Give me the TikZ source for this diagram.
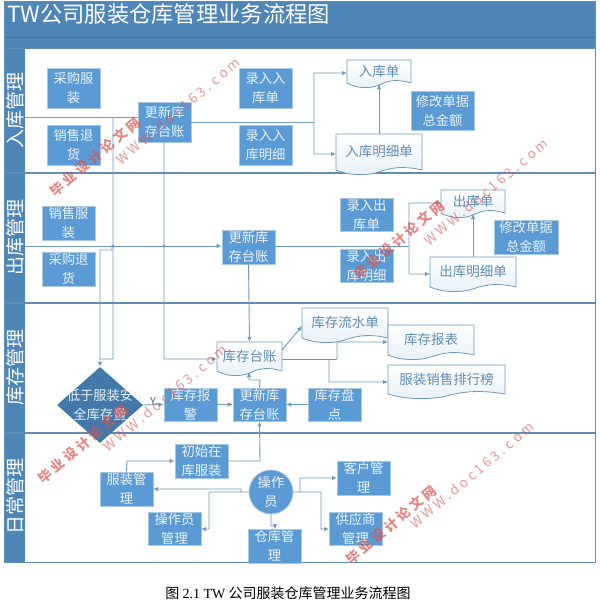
\documentclass[tikz,border=0pt]{standalone}
\usepackage{fontspec}
\setmainfont{Noto Sans CJK SC}
\newfontfamily\capfont{Liberation Serif}
\newfontfamily\capcjk{Noto Sans CJK SC}
\usetikzlibrary{shapes.geometric,arrows.meta}
\definecolor{band}{HTML}{4F86B8}
\definecolor{bandd}{HTML}{3F74A5}
\definecolor{lanel}{HTML}{5F8DB5}
\definecolor{boxb}{HTML}{5B9BD5}
\definecolor{boxe}{HTML}{A9C8E0}
\definecolor{conn}{HTML}{6C9BBE}
\definecolor{txt}{HTML}{EAF2F8}
\definecolor{doctxt}{HTML}{5F8DB5}
\definecolor{wm}{HTML}{D9534F}
\tikzset{
  pbox/.style={draw=boxe,line width=0.8pt,fill=boxb,text=txt,font=\fontsize{13.3}{19}\selectfont,align=center,inner sep=0pt},
  conline/.style={draw=conn,line width=0.9pt,rounded corners=0.5pt},
  arr/.style={conline,-{Latex[length=5pt,width=4.5pt,fill=conn]}},
  lanetext/.style={rotate=90,text=white,font=\fontsize{19}{21}\selectfont,inner sep=0pt},
  doclabel/.style={text=doctxt,font=\fontsize{13.5}{15}\selectfont,inner sep=0pt},
  wma/.style={rotate=40,text=wm,opacity=0.7,font=\bfseries\fontsize{13.5}{15}\selectfont,inner sep=0pt},
  wmb/.style={rotate=40,text=wm,opacity=0.6,font=\fontsize{13.5}{15}\selectfont,inner sep=0pt},
}
% x1 y1 x2 y2 (y2 = lowest point of wave), name, label
\newcommand{\docshape}[6]{%
  \path[top color=white,bottom color=white!85!boxb]
    (#1,#2) -- (#3,#2) -- (#3,#4-5)
    .. controls ({#3-0.2*(#3-#1)},#4-9) and ({#1+0.65*(#3-#1)},#4-8) .. ({(#1+#3)/2},#4-3)
    .. controls ({#1+0.35*(#3-#1)},#4+1) and ({#1+0.15*(#3-#1)},#4+0.5) .. (#1,#4-5) -- cycle;
  \draw[draw=conn,line width=0.8pt] (#1,#2) -- (#3,#2) -- (#3,#4-5)
    .. controls ({#3-0.2*(#3-#1)},#4-9) and ({#1+0.65*(#3-#1)},#4-8) .. ({(#1+#3)/2},#4-3)
    .. controls ({#1+0.35*(#3-#1)},#4+1) and ({#1+0.15*(#3-#1)},#4+0.5) .. (#1,#4-5) -- cycle;
  \coordinate (#5 top) at ({(#1+#3)/2},#2);
  \coordinate (#5 bot) at ({(#1+#3)/2},#4-3);
  \node[doclabel] (#5 t) at ({(#1+#3)/2},{(#2+#4-6)/2}) {#6};
}
\newcommand{\pb}[6]{\node[pbox,minimum width={(#3-#1)*1pt},minimum height={(#4-#2)*1pt}] (#5) at ({(#1+#3)/2},{(#2+#4)/2}) {#6};}
\begin{document}
\begin{tikzpicture}[x=1pt,y=-1pt]
\useasboundingbox (0,0) rectangle (600,600);
\fill[white] (0,0) rectangle (600,600);
% frame
\fill[band] (4,1) rectangle (595,48);
\draw[bandd,line width=0.8pt] (4,37.5) -- (595,37.5);
\fill[band] (4,48) rectangle (25,562);
\draw[lanel,line width=1pt] (4,1) rectangle (595,562);
\draw[lanel,line width=1.2pt] (4,48.5) -- (595,48.5);
\draw[lanel,line width=1.4pt] (4,173) -- (595,173);
\draw[lanel,line width=1.4pt] (4,303) -- (595,303);
\draw[lanel,line width=1.4pt] (4,433) -- (595,433);
\node[anchor=west,text=white,font=\fontsize{22.3}{24}\selectfont,inner sep=0pt] (title) at (7,14) {TW公司服装仓库管理业务流程图};
\node[lanetext] (l1) at (15,110) {入库管理};
\node[lanetext] (l2) at (15,237) {出库管理};
\node[lanetext] (l3) at (15,367) {库存管理};
\node[lanetext] (l4) at (15,496) {日常管理};
% documents
\docshape{347}{60}{411}{88}{d1}{入库单}
\docshape{336}{134}{422}{175}{d2}{入库明细单}
\docshape{441}{190}{505}{218}{d3}{出库单}
\docshape{430}{257}{516}{292}{d4}{出库明细单}
\docshape{217}{342}{282}{376}{d5}{库存台账}
\docshape{302}{308}{388}{343}{d6}{库存流水单}
\docshape{388}{325}{474}{360}{d7}{库存报表}
\docshape{388}{365}{505}{399}{d8}{服装销售排行榜}
% process boxes
\pb{47}{68}{100}{108}{a1}{采购服\\装}
\pb{47}{125}{100}{165}{a2}{销售退\\货}
\pb{138}{102}{191}{142}{a3}{更新库\\存台账}
\pb{239}{68}{292}{108}{a4}{录入入\\库单}
\pb{239}{125}{292}{165}{a5}{录入入\\库明细}
\pb{411}{91}{474}{130}{a6}{修改单据\\总金额}
\pb{42}{206}{95}{240}{b1}{销售服\\装}
\pb{42}{252}{95}{286}{b2}{采购退\\货}
\pb{222}{230}{275}{264}{b3}{更新库\\存台账}
\pb{340}{198}{393}{231}{b4}{录入出\\库单}
\pb{340}{249}{393}{282}{b5}{录入出\\库明细}
\pb{494}{220}{558}{254}{b6}{修改单据\\总金额}
\pb{164}{388}{217}{421}{c2}{库存报\\警}
\pb{233}{388}{286}{421}{c3}{更新库\\存台账}
\pb{308}{388}{361}{421}{c4}{库存盘\\点}
\pb{175}{444}{228}{478}{e1}{初始在\\库服装}
\pb{100}{472}{153}{506}{e2}{服装管\\理}
\pb{337}{461}{390}{495}{e3}{客户管\\理}
\pb{148}{512}{201}{545}{e4}{操作员\\管理}
\pb{248}{529}{301}{563}{e5}{仓库管\\理}
\pb{329}{512}{382}{545}{e6}{供应商\\管理}
\node[diamond,fill=bandd!90!boxb,inner sep=0pt,minimum width=86pt,minimum height=76pt] (c1) at (100,405) {};
\node[text=txt,font=\fontsize{13.3}{19}\selectfont,align=center,inner sep=0pt] (c1t) at (100,405) {低于服装安\\全库存量};
\node[circle,fill=boxb,draw=boxe,line width=0.8pt,text=txt,font=\fontsize{13.3}{19}\selectfont,align=center,inner sep=0pt,minimum size=44pt] (op) at (271,492) {操作\\员};
% connector helpers
\coordinate (s1) at (25,117);
\coordinate (s2) at (25,246);
\coordinate (j1) at (113,117);
\coordinate (j2) at (113,359);
\coordinate (j3) at (100,359);
\coordinate (k0) at (112,246);
\coordinate (k1) at (112,250);
\coordinate (k2) at (100,250);
\coordinate (m1) at (164,142);
\coordinate (m2) at (164,359);
\coordinate (m3) at (217,359);
% connectors
\draw[conline] (s1) -- (a3.west |- s1);
\draw[conline] (j1) -- (j2) -- (j3);
\draw[arr] (s2) -- (b3.west |- s2);
\draw[arr] (k0) -- (k1) -- (k2) -- (c1.north);
\draw[arr] (m1) -- (m2) -- (m3);
\fill[conn] (113,246) circle (1.6pt) (164,246) circle (1.6pt);
\coordinate (r1) at (314,122);
\draw[conline] (a3.east |- r1) -- (r1);
\draw[arr] (r1) -- (314,73) -- (347,73);
\draw[arr] (r1) -- (314,154) -- (336,154);
\draw[arr] (d2 top) -- (379,84);
\draw[conline] (b3.east |- s2) -- (409,246);
\draw[arr] (409,246) -- (409,203) -- (441,203);
\draw[arr] (409,246) -- (409,274) -- (430,274);
\draw[arr] (d4 top) -- (473,214);
\draw[arr] (b3.south) -- (d5 top);
\draw[arr] (282,350) -- (302,326);
\draw[conline] (282,359) -- (337,359);
\draw[arr] (337,359) -- (337,342) -- (388,342);
\draw[arr] (329,359) -- (329,382) -- (388,382);
\draw[arr] (c3.north) -- (260,380) -- (249,380) -- (249,372);
\draw[arr] (c1.east) -- (c2.west);
\draw[arr] (c2.east) -- (c3.west);
\draw[arr] (c4.west) -- (c3.east);
\draw[arr] (e1.east) -- (260,461) -- (c3.south);
\draw[arr] (e2.north) -- (127,461) -- (e1.west);
\draw[arr] (op.west) -- (241,492) -- (241,489) -- (153,489);
\draw[arr] (241,492) -- (209,492) -- (209,529) -- (201,529);
\draw[arr] (op.south) -- (271,526) -- (275,526) -- (275,529);
\draw[arr] (300,492) -- (300,478) -- (337,478);
\draw[arr] (op.east) -- (321,492) -- (321,529) -- (329,529);
\node[text=conn!70!black,font=\fontsize{11}{12}\selectfont,inner sep=0pt] (ylab) at (153,401) {Y};
% watermarks
\node[wma] (w1) at (95,157) {毕 业 设 计 论 文 网};
\node[wmb] (w2) at (178,111) {W W W . d o c 1 6 3 . c o m};
\node[wma] (w3) at (399,240) {毕 业 设 计 论 文 网};
\node[wmb] (w4) at (486,192) {W W W . d o c 1 6 3 . c o m};
\node[wma] (w5) at (83,444) {毕 业 设 计 论 文 网};
\node[wmb] (w6) at (165,398) {W W W . d o c 1 6 3 . c o m};
\node[wma] (w7) at (391,525) {毕 业 设 计 论 文 网};
\node[wmb] (w8) at (472,475) {W W W . d o c 1 6 3 . c o m};
% caption
\node[text=black,font=\fontsize{14}{15}\selectfont,inner sep=0pt] (cap) at (288,593) {图 {\capfont 2.1 TW} 公司服装仓库管理业务流程图};
\end{tikzpicture}
\end{document}
